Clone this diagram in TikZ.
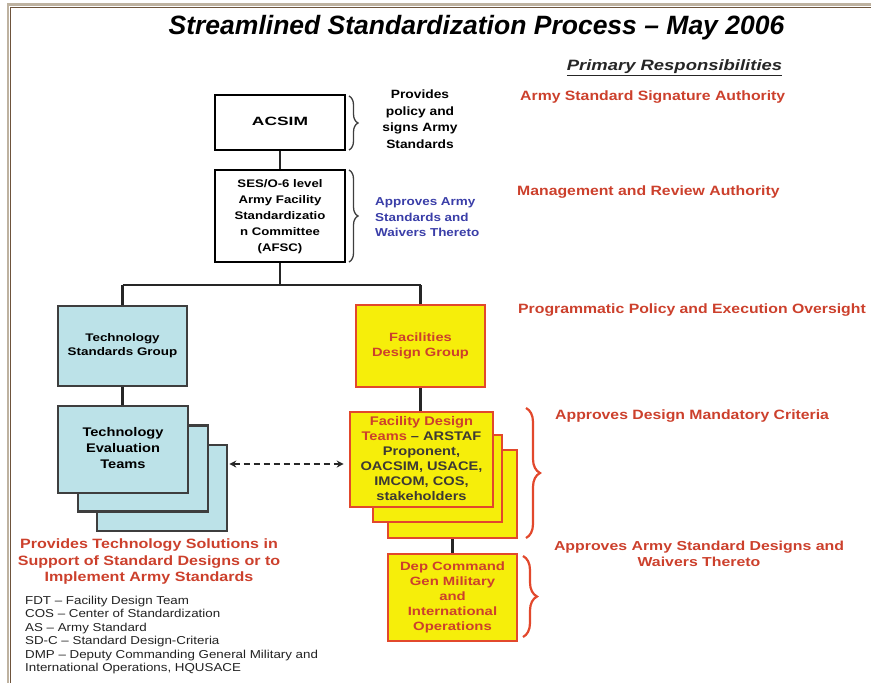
\documentclass[tikz,border=0pt]{standalone}
\usepackage{fontspec}
\usepackage{graphicx}
\setmainfont{Liberation Sans}
\usetikzlibrary{decorations.pathreplacing,arrows.meta,calc}
\definecolor{redtxt}{RGB}{204,64,44}
\definecolor{bluetxt}{RGB}{58,62,168}
\definecolor{yelfill}{RGB}{246,238,10}
\definecolor{redline}{RGB}{226,72,44}
\definecolor{bluefill}{RGB}{188,226,232}
\definecolor{boxgray}{RGB}{62,62,62}
\definecolor{framelight}{RGB}{190,178,160}
\definecolor{framedark}{RGB}{110,84,60}
\definecolor{legtxt}{RGB}{34,34,34}
\newcommand\stc[2][1.2]{\scalebox{#1}[1]{\begin{tabular}{@{}c@{}}#2\end{tabular}}}
\newcommand\stl[2][1.2]{\scalebox{#1}[1]{\begin{tabular}{@{}l@{}}#2\end{tabular}}}
\tikzset{
  whitebox/.style={draw=black, line width=2pt, fill=white, align=center, font=\bfseries\fontsize{11}{16}\selectfont, inner sep=1pt},
  tealbox/.style={draw=boxgray, line width=2.6pt, fill=bluefill, align=center, font=\bfseries\fontsize{11}{14}\selectfont, inner sep=1pt, minimum width=129pt},
  yelbox/.style={draw=redline, line width=2.6pt, fill=yelfill, align=center, font=\bfseries\fontsize{12}{15}\selectfont, inner sep=1pt, minimum width=129pt},
  resp/.style={anchor=west, text=redtxt, inner sep=1pt, font=\bfseries\fontsize{13.5}{16}\selectfont},
  graybrace/.style={decorate, decoration={brace, amplitude=9pt}, draw=boxgray, line width=1.3pt},
  redbrace/.style={decorate, decoration={brace, amplitude=14pt}, draw=redline, line width=2.2pt},
  conn/.style={draw=black!85, line width=2.4pt},
}
\begin{document}
\begin{tikzpicture}[x=1pt,y=-1pt]
\useasboundingbox (0,0) rectangle (871,683);
% frame
\draw[framelight, line width=2.5pt] (8,700) -- (8,4.5) -- (880,4.5);
\draw[framedark, line width=1pt] (10.5,700) -- (10.5,7) -- (880,7);
% title
\node[font=\bfseries\itshape\fontsize{26.5}{30}\selectfont] (title) at (476.5,28) {Streamlined Standardization Process -- May 2006};
\node[font=\bfseries\itshape\fontsize{15}{17}\selectfont, text=black!85] (prim) at (674.5,68) {\scalebox{1.23}[1]{\underline{Primary Responsibilities}}};
% top boxes
\node[whitebox, minimum width=130pt, minimum height=55pt, font=\bfseries\fontsize{12}{15}\selectfont] (acsim) at (280,122.5) {\stc[1.45]{ACSIM}};
\node[whitebox, minimum width=130pt, minimum height=92pt] (ses) at (280,216) {\stc{SES/O-6 level\\Army Facility\\Standardizatio\\n Committee\\(AFSC)}};
\draw[conn] (acsim.south) -- (ses.north);
\draw[graybrace] (349,96) -- (349,150);
\draw[graybrace] (349,170) -- (349,262);
\node[font=\bfseries\fontsize{12}{16.5}\selectfont] (prov) at (420,120) {\stc[1.15]{Provides\\policy and\\signs Army\\Standards}};
\node[anchor=west, inner sep=0pt, text=bluetxt, font=\bfseries\fontsize{11.5}{15.5}\selectfont] (appr) at (375,218) {\stl[1.17]{Approves Army\\Standards and\\Waivers Thereto}};
% second level
\node[tealbox, minimum height=80pt] (tsg) at (122.5,346) {\stc[1.22]{Technology\\Standards Group}};
\node[yelbox, minimum height=82pt, text=redtxt] (fdg) at (420.5,346) {\stc[1.22]{Facilities\\Design Group}};
\coordinate (split) at (280,285);
\draw[conn] (ses.south) -- (split);
\draw[conn] (split -| tsg.north) -- (split -| fdg.north);
\draw[conn] (split -| tsg.north) -- (tsg.north);
\draw[conn] (split -| fdg.north) -- (fdg.north);
% technology evaluation teams
\node[tealbox, minimum width=130pt, minimum height=86pt] (tet3) at (162,488) {};
\node[tealbox, minimum width=130pt, minimum height=86pt] (tet2) at (143,468.5) {};
\node[tealbox, minimum width=130pt, minimum height=87pt, font=\bfseries\fontsize{12.5}{16}\selectfont] (tet1) at (123,449.5) {\stc[1.17]{Technology\\Evaluation\\Teams}};
\draw[conn] (tsg.south) -- (tet1.north -| tsg.south);
% facility design teams
\node[yelbox, minimum height=88pt] (fdt3) at (452.5,494) {};
\node[yelbox, minimum height=87pt] (fdt2) at (437.5,478.5) {};
\node[yelbox, minimum width=143pt, minimum height=95pt, text=black!80!yellow!60!black, font=\bfseries\fontsize{12.5}{15}\selectfont] (fdt1) at (421.5,459.5) {\stc[1.17]{{\color{redtxt}Facility Design}\\{\color{redtxt}Teams} -- ARSTAF\\Proponent,\\OACSIM, USACE,\\IMCOM, COS,\\stakeholders}};
\draw[conn] (fdg.south) -- (fdt1.north -| fdg.south);
% dashed link
\coordinate (dl) at ([xshift=1pt,yshift=24pt]tet3.east);
\coordinate (dr) at ([xshift=-5pt]dl -| fdt1.west);
\draw[black!85, line width=1.6pt, dash pattern=on 6pt off 4pt, {Stealth[length=7pt,width=7pt]}-{Stealth[length=7pt,width=7pt]}] (dl) -- (dr);
% dep command
\node[yelbox, minimum height=87pt, text=redtxt, font=\bfseries\fontsize{12}{15}\selectfont] (dcg) at (452.5,597.5) {\stc[1.24]{Dep Command\\Gen Military\\and\\International\\Operations}};
\draw[conn] (fdt3.south) -- (dcg.north);
% red braces
\draw[redbrace] (526,408) -- (526,538);
\draw[redbrace] (523,556) -- (523,637);
% responsibilities
\node[resp] (r1) at (519,97) {\scalebox{1.17}[1]{Army Standard Signature Authority}};
\node[resp] (r2) at (516,192) {\scalebox{1.17}[1]{Management and Review Authority}};
\node[resp] (r3) at (517,310) {\scalebox{1.17}[1]{Programmatic Policy and Execution Oversight}};
\node[resp] (r4) at (554,416) {\scalebox{1.17}[1]{Approves Design Mandatory Criteria}};
\node[text=redtxt, font=\bfseries\fontsize{13}{16}\selectfont] (r5) at (699,555) {\stc[1.22]{Approves Army Standard Designs and\\Waivers Thereto}};
% left text
\node[text=redtxt, font=\bfseries\fontsize{13.5}{16.5}\selectfont] (tsol) at (149,562) {\stc[1.19]{Provides Technology Solutions in\\Support of Standard Designs or to\\Implement Army Standards}};
\node[anchor=north west, text=legtxt, inner sep=0pt, font=\fontsize{11.5}{13.4}\selectfont] (legend) at (25,595) {\stl[1.16]{FDT -- Facility Design Team\\COS -- Center of Standardization\\AS -- Army Standard\\SD-C -- Standard Design-Criteria\\DMP -- Deputy Commanding General Military and\\International Operations, HQUSACE}};
\end{tikzpicture}
\end{document}
